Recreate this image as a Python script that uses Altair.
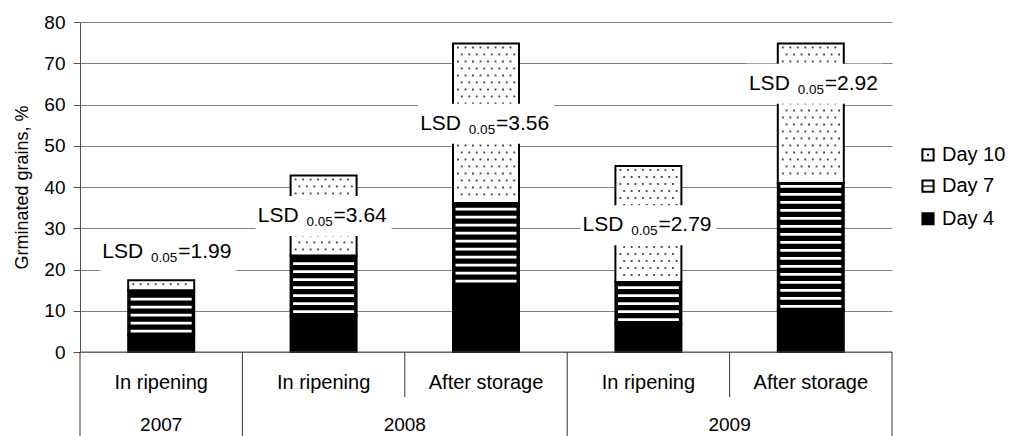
import altair as alt
import pandas as pd

FONT = "Liberation Sans"

# ---- data -------------------------------------------------------------
groups = ["In ripening", "In ripening", "After storage", "In ripening", "After storage"]
years = ["2007", "2008", "2008", "2009", "2009"]
year_names = ["2007", "2008", "2009"]
series = ["Day 4", "Day 7", "Day 10"]
day4 = [4.1, 8.8, 16.2, 6.9, 10.1]
day7 = [10.9, 14.6, 19.9, 10.1, 30.9]
day10 = [2.4, 19.4, 38.7, 28.1, 33.8]
lsd_text = ["1.99", "3.64", "3.56", "2.79", "2.92"]
lsd_level = [22.9, 31.5, 53.9, 29.3, 63.6]
y_ticks = [0, 10, 20, 30, 40, 50, 60, 70, 80]
legend_names = ["Day 10", "Day 7", "Day 4"]
legend_level = [47.8, 40.2, 32.3]

# ---- geometry helpers --------------------------------------------------
W, H = 812, 330
N = len(groups)
Y_MAX = 80
UX = N / W          # x units per pixel
UY = Y_MAX / H      # y units per pixel
HALF = 33 * UX      # half bar width
LABEL_NUDGE_PX = [7, 0, 0, 0, 4]   # horizontal nudge of the LSD boxes

X = alt.Scale(domain=[0, N], nice=False, zero=False)
Y = alt.Scale(domain=[0, Y_MAX], nice=False)
Y_TITLE = "Grminated grains, %"
Y_AXIS = alt.Axis(values=y_ticks, grid=True, gridColor="#808080",
                  gridWidth=1, domainColor="#555555", tickColor="#555555",
                  tickSize=7, labelPadding=8, labelFontSize=19,
                  labelFont=FONT, labelColor="black",
                  titleFont=FONT, titleFontSize=18,
                  titleFontWeight="normal", titleColor="black",
                  titlePadding=12)


def xq(field):
    return alt.X(field, type="quantitative", scale=X, axis=None)


def yq(field):
    return alt.Y(field, type="quantitative", scale=Y, axis=Y_AXIS, title=Y_TITLE)


# stacked segments
seg = []
for i in range(N):
    base = 0.0
    for name, vals in zip(series, [day4, day7, day10]):
        top = base + vals[i]
        seg.append(dict(pos=i + 0.5, x0=i + 0.5 - HALF, x1=i + 0.5 + HALF,
                        y0=base, y1=top, series=name))
        base = top
seg_df = pd.DataFrame(seg)

# horizontal stripe fill for the Day 7 segments
stripes = []
for r in seg:
    if r["series"] != "Day 7":
        continue
    y = r["y0"] + 4 * UY
    while y < r["y1"] - 3 * UY:
        stripes.append(dict(x0=r["x0"] + 2.5 * UX, x1=r["x1"] - 2.5 * UX, y=y))
        y += 8 * UY
stripe_df = pd.DataFrame(stripes)

# dotted fill for the Day 10 segments
dots = []
for r in seg:
    if r["series"] != "Day 10":
        continue
    y = r["y1"] - 4 * UY
    row = 0
    while y > r["y0"] + 3 * UY:
        x = r["x0"] + (5 if row % 2 == 0 else 8.75) * UX
        while x < r["x1"] - 3 * UX:
            dots.append(dict(x=x, y=y))
            x += 7.5 * UX
        y -= 7 * UY
        row += 1
dot_df = pd.DataFrame(dots)

# LSD annotations
centers = [i + 0.5 + LABEL_NUDGE_PX[i] * UX for i in range(N)]
lab_df = pd.DataFrame(dict(
    pos=centers,
    bx0=[c - 68 * UX for c in centers],
    bx1=[c + 68 * UX for c in centers],
    level=lsd_level,
    by0=[v - 14 * UY for v in lsd_level],
    by1=[v + 26 * UY for v in lsd_level],
    rest=["=" + t for t in lsd_text],
))

# ---- layers ------------------------------------------------------------
bars = alt.Chart(seg_df).mark_rect(stroke="black", strokeWidth=2).encode(
    x=xq("x0"), x2="x1:Q",
    y=yq("y0"), y2="y1:Q",
    fill=alt.Fill("series:N", scale=alt.Scale(domain=series,
                                              range=["black", "black", "white"]),
                  legend=None),
)

stripe_layer = alt.Chart(stripe_df).mark_rule(color="white", strokeWidth=2.8).encode(
    x=xq("x0"), x2="x1:Q", y=yq("y"),
)

dot_layer = alt.Chart(dot_df).mark_square(size=3.5, color="#444444", opacity=1).encode(
    x=xq("x"), y=yq("y"),
)

boxes = alt.Chart(lab_df).mark_rect(fill="white").encode(
    x=xq("bx0"), x2="bx1:Q", y=yq("by0"), y2="by1:Q",
)

txt_base = alt.Chart(lab_df).encode(x=xq("pos"), y=yq("level"))
lsd_word = txt_base.mark_text(align="right", baseline="alphabetic", dx=-25,
                              font=FONT, fontSize=21, color="black"
                              ).encode(text=alt.value("LSD"))
lsd_sub = txt_base.mark_text(align="center", baseline="alphabetic", dx=-4, dy=4,
                             font=FONT, fontSize=13.5, color="black"
                             ).encode(text=alt.value("0.05"))
lsd_val = txt_base.mark_text(align="left", baseline="alphabetic", dx=10,
                             font=FONT, fontSize=21, color="black"
                             ).encode(text="rest:N")

# ---- two-level category axis ------------------------------------------
cat_df = pd.DataFrame(dict(pos=[i + 0.5 for i in range(N)], label=groups))
year_df = pd.DataFrame(dict(
    pos=[sum(i + 0.5 for i in range(N) if years[i] == y) / years.count(y)
         for y in year_names],
    label=year_names))
edges = [0] + [i for i in range(1, N) if years[i] != years[i - 1]] + [N]
inner = [i for i in range(1, N) if years[i] == years[i - 1]]

x_line = alt.Chart(pd.DataFrame(dict(a=[0], b=[N], y=[0]))).mark_rule(
    color="#555555", strokeWidth=1).encode(x=xq("a"), x2="b:Q", y=yq("y"))

outer_sep = alt.Chart(pd.DataFrame(dict(x=edges))).mark_rule(
    color="#333333", strokeWidth=1).encode(
    x=xq("x"), y=alt.value(H), y2=alt.value(H + 84))

inner_sep = alt.Chart(pd.DataFrame(dict(x=inner))).mark_rule(
    color="#333333", strokeWidth=1).encode(
    x=xq("x"), y=alt.value(H), y2=alt.value(H + 45))

cat_text = alt.Chart(cat_df).mark_text(
    baseline="middle", font=FONT, fontSize=20, color="black").encode(
    x=xq("pos"), y=alt.value(H + 31), text="label:N")

year_text = alt.Chart(year_df).mark_text(
    baseline="middle", font=FONT, fontSize=19, color="black").encode(
    x=xq("pos"), y=alt.value(H + 73), text="label:N")

# ---- legend ------------------------------------------------------------
leg_df = pd.DataFrame(dict(name=legend_names, y=legend_level,
                           fill=["white", "white", "black"]))
leg_df["x"] = (W + 36) * UX
leg_df["tx"] = (W + 50) * UX

leg_sq = alt.Chart(leg_df).mark_square(size=125, stroke="black", strokeWidth=2,
                                       opacity=1).encode(
    x=xq("x"), y=yq("y"), fill=alt.Fill("fill:N", scale=None),
)
leg_bar = alt.Chart(leg_df[leg_df.name == "Day 7"]).mark_tick(
    orient="horizontal", size=11, thickness=2, color="black").encode(
    x=xq("x"), y=yq("y"))
leg_dot = alt.Chart(leg_df[leg_df.name == "Day 10"]).mark_square(
    size=4, color="black", opacity=1).encode(x=xq("x"), y=yq("y"))
leg_txt = alt.Chart(leg_df).mark_text(
    align="left", baseline="middle", font=FONT, fontSize=20, color="black").encode(
    x=xq("tx"), y=yq("y"), text="name:N")

chart = alt.layer(
    bars, stripe_layer, dot_layer, boxes, lsd_word, lsd_sub, lsd_val,
    x_line, outer_sep, inner_sep, cat_text, year_text,
    leg_sq, leg_bar, leg_dot, leg_txt,
).properties(
    width=W, height=H,
    padding={"left": 80, "top": 22, "right": 119, "bottom": 84},
    autosize=alt.AutoSizeParams(type="none"),
).configure_view(stroke=None)

chart.save("out.html", embed_options={"renderer": "svg", "actions": False})
